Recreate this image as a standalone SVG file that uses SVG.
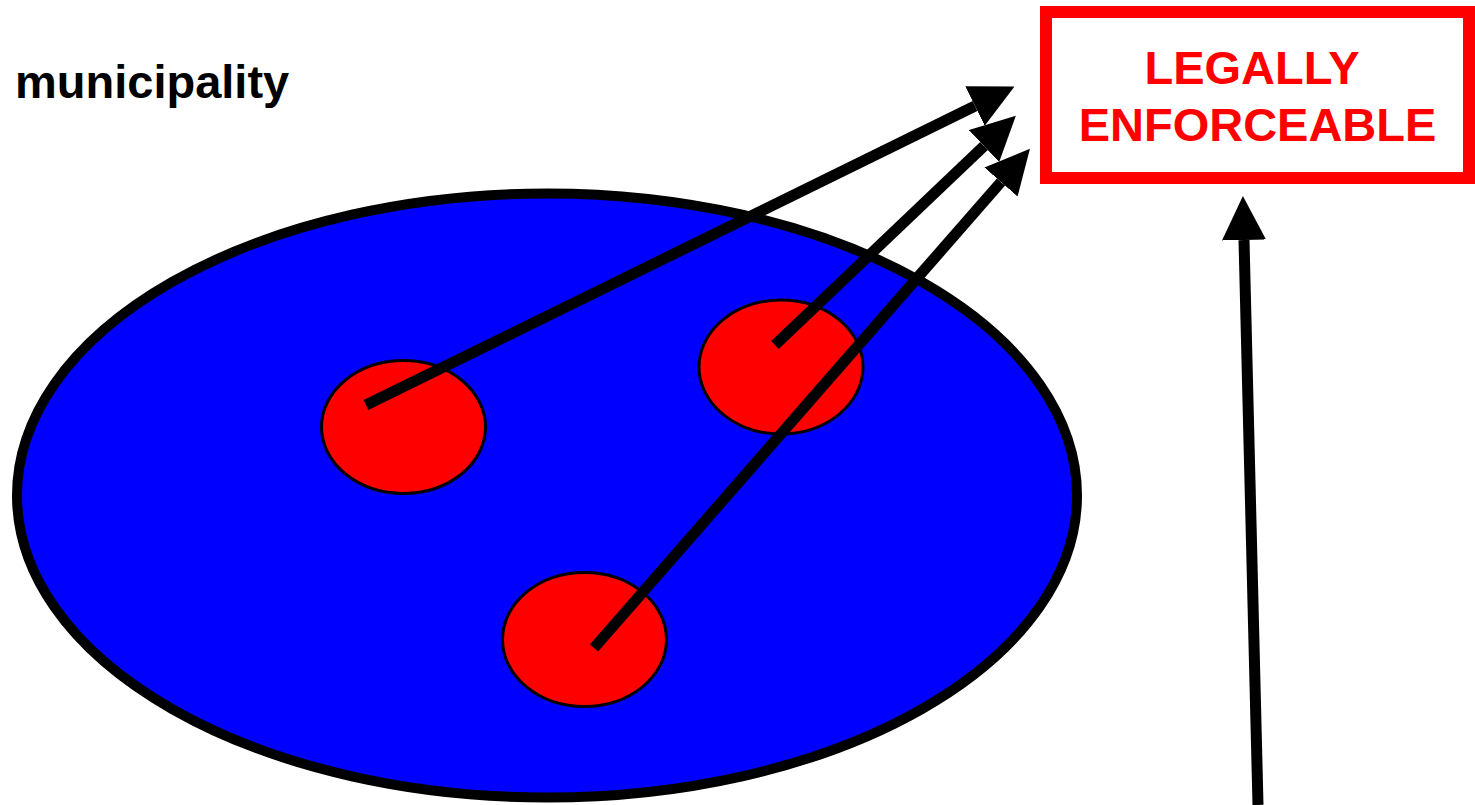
<svg xmlns="http://www.w3.org/2000/svg" width="1475" height="805" viewBox="0 0 1475 805">
  <style>
    .lbl { font-family: "Liberation Sans", Arial, sans-serif; font-weight: bold; }
    .spot { fill: #ff0000; stroke: #000000; stroke-width: 3; }
    .conn { stroke: #000000; stroke-width: 11; fill: none; marker-end: url(#head); }
  </style>
  <defs>
    <marker id="head" viewBox="0 -22 44 44" refX="0" refY="0" markerWidth="44" markerHeight="44" markerUnits="userSpaceOnUse" orient="auto">
      <path d="M0,-22 L44,0 L0,22 Z" fill="#000000"/>
    </marker>
  </defs>
  <rect x="0" y="0" width="1475" height="805" fill="#ffffff"/>
  <g id="label-municipality">
    <text class="lbl" x="15" y="98" font-size="47" fill="#000000">municipality</text>
  </g>
  <g id="municipality">
    <ellipse cx="547" cy="495.5" rx="530" ry="302" fill="#0000ff" stroke="#000000" stroke-width="10"/>
  </g>
  <g id="spot-a">
    <ellipse class="spot" cx="403.5" cy="427" rx="82" ry="66.5"/>
  </g>
  <g id="spot-b">
    <ellipse class="spot" cx="781" cy="367" rx="82" ry="67"/>
  </g>
  <g id="spot-c">
    <ellipse class="spot" cx="584.5" cy="639.5" rx="82" ry="67"/>
  </g>
  <g id="legally-enforceable">
    <rect x="1046" y="12" width="423" height="166" fill="#ffffff" stroke="#ff0000" stroke-width="12"/>
    <text class="lbl" x="1252" y="84" font-size="47" fill="#ff0000" text-anchor="middle">LEGALLY</text>
    <text class="lbl" x="1257.5" y="141" font-size="47" fill="#ff0000" text-anchor="middle">ENFORCEABLE</text>
  </g>
  <g id="connectors">
    <line class="conn" x1="366" y1="405" x2="975" y2="106"/>
    <line class="conn" x1="775" y1="345" x2="984" y2="146"/>
    <line class="conn" x1="594" y1="648" x2="1001" y2="182"/>
    <line class="conn" x1="1258" y1="805" x2="1244" y2="240"/>
  </g>
</svg>
